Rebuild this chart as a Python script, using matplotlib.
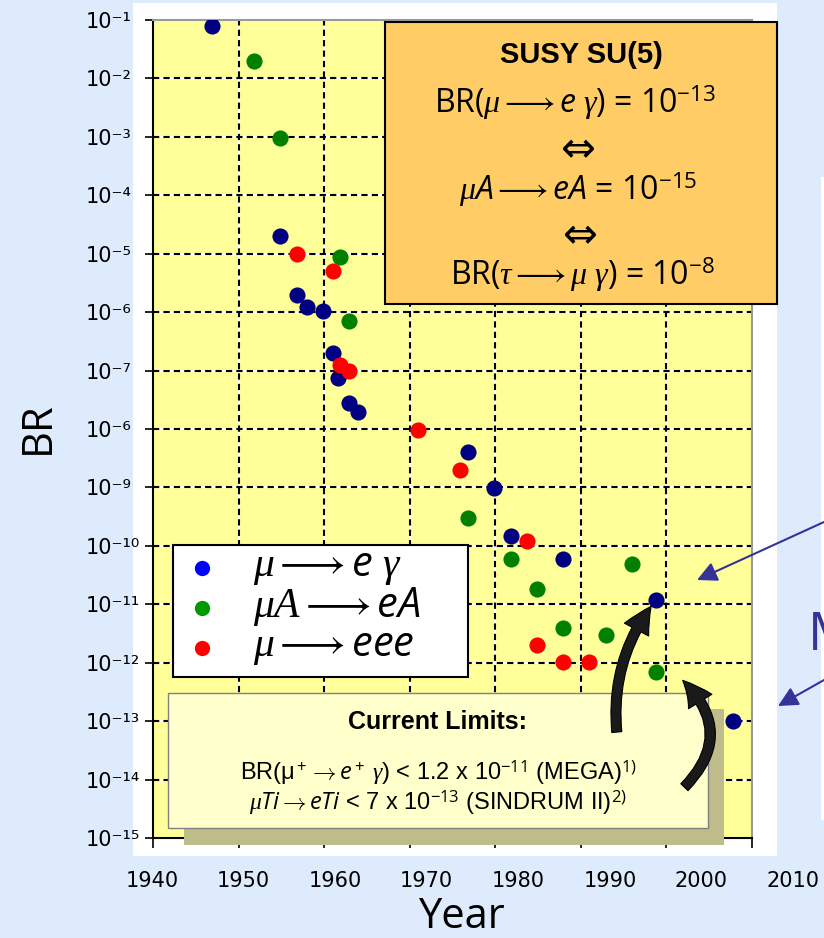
import matplotlib.pyplot as plt
from matplotlib.patches import Rectangle, FancyArrowPatch
from matplotlib.lines import Line2D

plt.rcParams['mathtext.fontset'] = 'custom'
plt.rcParams['mathtext.rm'] = 'Open Sans'
plt.rcParams['mathtext.it'] = 'Liberation Serif:italic'
plt.rcParams['mathtext.sf'] = 'Open Sans:italic'
plt.rcParams['mathtext.bf'] = 'Open Sans:bold'

# mu -> e gamma
meg_year = [1946.9, 1954.8, 1956.8, 1958.0, 1959.9, 1961.0, 1961.6, 1962.9, 1963.9,
            1976.8, 1979.8, 1981.8, 1987.9, 1998.8, 2007.8]
meg_br = [8e-2, 2e-5, 2e-6, 1.23e-6, 1.05e-6, 2e-7, 7.4e-8, 2.75e-8, 1.95e-8,
          4e-9, 9.8e-10, 1.5e-10, 5.9e-11, 1.2e-11, 1e-13]

# mu A -> e A
mec_year = [1951.8, 1954.8, 1961.8, 1962.9, 1976.8, 1981.8, 1984.9, 1996.0,
            1987.9, 1992.9, 1998.8]
mec_br = [2e-2, 9.5e-4, 8.7e-6, 7e-7, 3e-10, 5.9e-11, 1.8e-11, 4.9e-11,
          3.9e-12, 3e-12, 7e-13]

# mu -> eee
meee_year = [1956.8, 1961.0, 1961.8, 1962.9, 1971.0, 1975.9, 1983.7, 1984.9,
             1987.9, 1990.9]
meee_br = [9.8e-6, 5e-6, 1.23e-7, 9.8e-8, 9.5e-9, 2e-9, 1.2e-10, 2e-12,
           1.02e-12, 1.02e-12]

decades = [1e-1, 1e-2, 1e-3, 1e-4, 1e-5, 1e-6, 1e-7, 1e-8, 1e-9, 1e-10,
           1e-11, 1e-12, 1e-13, 1e-14, 1e-15]
ylabels = ['10⁻¹', '10⁻²', '10⁻³', '10⁻⁴', '10⁻⁵', '10⁻⁶', '10⁻⁷', '10⁻⁶',
           '10⁻⁹', '10⁻¹⁰', '10⁻¹¹', '10⁻¹²', '10⁻¹³', '10⁻¹⁴', '10⁻¹⁵']
years = [1940, 1950, 1960, 1970, 1980, 1990, 2000, 2010]

W, H = 824, 938


def fx(px):
    return px / W


def fy(py):
    return 1 - py / H


fig = plt.figure(figsize=(W / 100, H / 100), dpi=100)
fig.patch.set_facecolor('#deebfc')

# white panels
fig.add_artist(Rectangle((fx(133), fy(856)), fx(777) - fx(133), fy(3) - fy(856),
                         transform=fig.transFigure, facecolor='white',
                         edgecolor='none', zorder=-1))
fig.add_artist(Rectangle((fx(821), fy(820)), fx(824) - fx(821), fy(177) - fy(820),
                         transform=fig.transFigure, facecolor='white',
                         edgecolor='none', zorder=-1))

ax = fig.add_axes([fx(153), fy(838), fx(752) - fx(153), fy(20) - fy(838)])
ax.set_facecolor('#ffff99')
ax.set_yscale('log')
ax.set_xlim(1940, 2010)
ax.set_ylim(1e-15, 1e-1)
ax.set_yticks(decades)
ax.set_yticklabels(ylabels, fontsize=15, family='DejaVu Sans')
ax.minorticks_off()
ax.set_xticks(years)
ax.set_xticklabels([])

ax.tick_params(axis='y', direction='out', length=6, width=1.2, pad=42.5)
ax.tick_params(axis='x', direction='out', length=7, width=1.2)
for lbl in ax.get_yticklabels():
    lbl.set_ha('left')

for s in ['left', 'bottom']:
    ax.spines[s].set_linewidth(1.5)
    ax.spines[s].set_color('black')
for s in ['top', 'right']:
    ax.spines[s].set_linewidth(1.5)
    ax.spines[s].set_color('#999999')

# dashed grid: white underlay, black dashes
for y in decades[1:-1]:
    ax.axhline(y, color='white', lw=1.5, zorder=1)
    ax.axhline(y, color='black', lw=1.5, ls=(0, (3, 2)), zorder=1.1)
for x in years[1:-1]:
    ax.axvline(x, color='white', lw=1.5, zorder=1)
    ax.axvline(x, color='black', lw=1.5, ls=(0, (3, 2)), zorder=1.1)

ms = 135
ax.scatter(meg_year, meg_br, s=ms, color='#000080', zorder=3, linewidths=0)
ax.scatter(mec_year, mec_br, s=ms, color='#008000', zorder=3, linewidths=0)
ax.scatter(meee_year, meee_br, s=ms, color='#ff0000', zorder=3, linewidths=0)

# year labels (own spacing)
lab_ax = fig.add_axes([fx(152), fy(871), fx(793) - fx(152), 0.0001])
lab_ax.set_xlim(1940, 2010)
lab_ax.set_xticks(years)
lab_ax.set_xticklabels([str(y) for y in years], fontsize=15, family='DejaVu Sans')
lab_ax.tick_params(axis='x', length=0, pad=0)
lab_ax.set_yticks([])
lab_ax.patch.set_alpha(0)
for s in lab_ax.spines.values():
    s.set_visible(False)

fig.text(fx(38), fy(428), 'BR', rotation=90, fontsize=30, family='Open Sans',
         ha='center', va='center')
fig.text(fx(461), fy(917), 'Year', fontsize=30, family='Open Sans',
         ha='center', va='center')


def box(x0, y0, x1, y1, **kw):
    r = Rectangle((fx(x0), fy(y1)), fx(x1) - fx(x0), fy(y0) - fy(y1),
                  transform=fig.transFigure, clip_on=False, **kw)
    ax.add_patch(r)


def txt(x, y, s, **kw):
    ax.text(fx(x), fy(y), s, transform=fig.transFigure, ha='center',
            va='center', zorder=7, **kw)


# legend
box(173, 545, 468, 677, facecolor='white', edgecolor='black', lw=1.5, zorder=5)
for yy, c in zip([568, 608, 648], ['#0000ff', '#009900', '#ff0000']):
    ax.add_line(Line2D([fx(202)], [fy(yy)], transform=fig.transFigure, marker='o',
                       ms=11, color=c, mec='none', ls='none', zorder=6,
                       clip_on=False))
leg_labels = [r'$\mu\longrightarrow\mathsf{e}\ \gamma$',
              r'$\mu A\longrightarrow\mathsf{eA}$',
              r'$\mu\longrightarrow\mathsf{eee}$']
for yy, s in zip([566, 606, 646], leg_labels):
    ax.text(fx(253), fy(yy), s, transform=fig.transFigure, fontsize=30,
            ha='left', va='center', zorder=7)

# SUSY SU(5) box
box(385, 22, 777, 304, facecolor='#ffcc66', edgecolor='black', lw=1.5, zorder=5)
txt(581, 55, 'SUSY SU(5)', fontsize=21, fontweight='bold', family='Liberation Sans')
txt(575, 103, r'BR($\mu\longrightarrow\mathsf{e}\ \gamma$) = 10$^{-13}$',
    fontsize=23, family='Open Sans')
txt(578, 150, '⇔', fontsize=30, family='DejaVu Sans')
txt(578, 190, r'$\mu\mathsf{A}\longrightarrow\mathsf{eA}$ = 10$^{-15}$',
    fontsize=23, family='Open Sans')
txt(580, 236, '⇔', fontsize=30, family='DejaVu Sans')
txt(582, 275, r'BR($\tau\longrightarrow\mu\ \gamma$) = 10$^{-8}$',
    fontsize=23, family='Open Sans')

# current limits box with shadow
box(184, 709, 724, 845, facecolor='#bfbc8c', edgecolor='none', zorder=5)
box(168, 693, 708, 828, facecolor='#ffffcc', edgecolor='#808080', lw=1, zorder=5.5)
txt(437, 722, 'Current Limits:', fontsize=18, fontweight='bold',
    family='Liberation Sans')
txt(439, 773, r'BR(μ$^+\rightarrow\mathsf{e}^+\ \gamma$) < 1.2 x 10$^{-11}$ (MEGA)$^{1)}$',
    fontsize=17, family='Liberation Sans')
txt(438, 803, r'$\mu\mathsf{Ti}\rightarrow\mathsf{eTi}$ < 7 x 10$^{-13}$ (SINDRUM II)$^{2)}$',
    fontsize=17, family='Liberation Sans')

# curved arrows to the current limits
ax.annotate('', xy=(meg_year[-2], meg_br[-2]), xytext=(1994.2, 6.5e-14),
            arrowprops=dict(arrowstyle='simple,head_length=1.1,head_width=1.1,tail_width=0.4',
                            connectionstyle='arc3,rad=-0.2', fc='#1a1a1a',
                            ec='black', lw=0.8, shrinkA=0, shrinkB=6,
                            mutation_scale=18),
            annotation_clip=False, zorder=8)
ax.annotate('', xy=(2001.9, 5e-13), xytext=(2002.1, 7.4e-15),
            arrowprops=dict(arrowstyle='simple,head_length=1.1,head_width=1.1,tail_width=0.4',
                            connectionstyle='arc3,rad=0.5', fc='#1a1a1a',
                            ec='black', lw=0.8, shrinkA=0, shrinkB=0,
                            mutation_scale=18),
            annotation_clip=False, zorder=8)

# blue pointers from the right
for (x0, y0), (x1, y1) in [((824, 522), (697, 580)), ((824, 680), (778, 706))]:
    fig.add_artist(FancyArrowPatch((fx(x0), fy(y0)), (fx(x1), fy(y1)),
                                   transform=fig.transFigure, arrowstyle='-|>',
                                   mutation_scale=30, color='#333399', lw=1.5,
                                   shrinkA=0, shrinkB=0, zorder=9))
fig.text(fx(808), fy(636), 'M', fontsize=38, family='Open Sans', color='#333399',
         ha='left', va='center')

fig.savefig('out.png', dpi=100, facecolor=fig.get_facecolor())
